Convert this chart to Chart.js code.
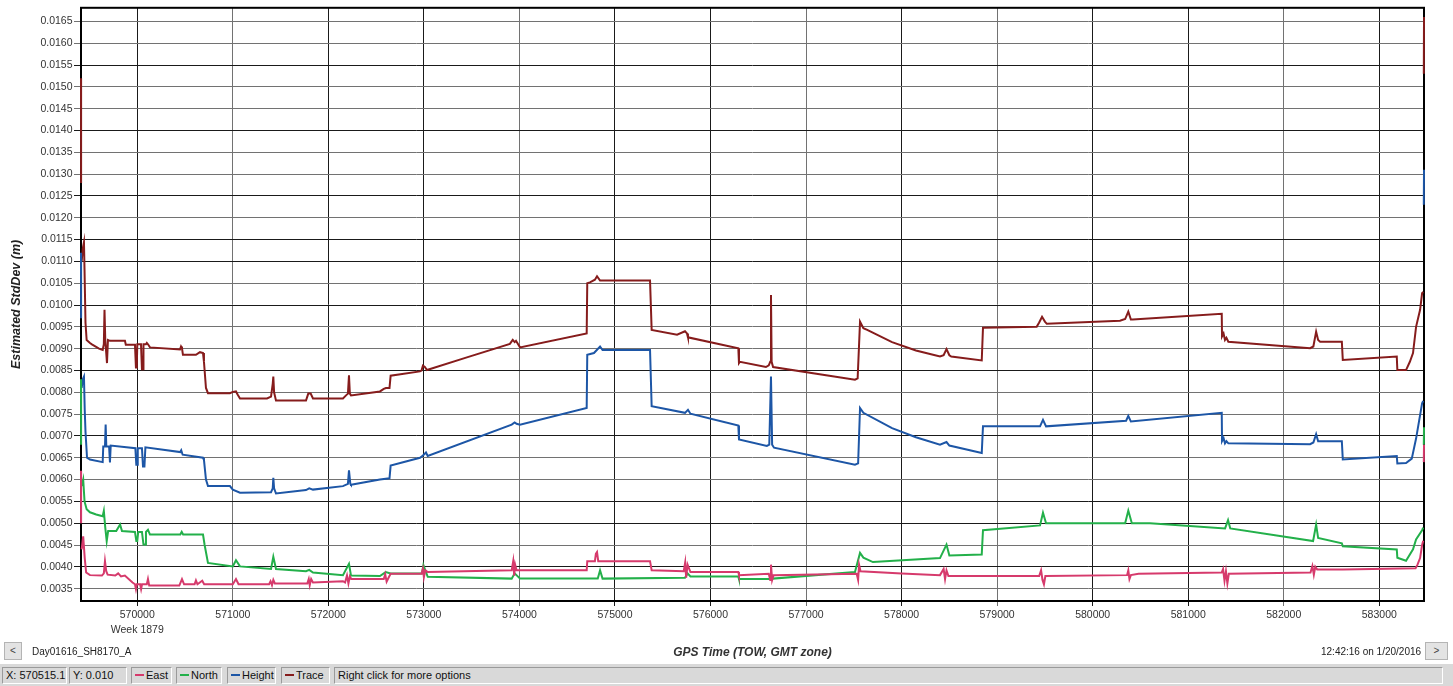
<!DOCTYPE html>
<html>
<head>
<meta charset="utf-8">
<title>Estimated StdDev</title>
<script src="https://cdn.jsdelivr.net/npm/chart.js@4.4.1/dist/chart.umd.min.js"></script>
<style>
  html, body { margin: 0; padding: 0; background: #ffffff; }
  #wrap { position: relative; width: 1453px; height: 686px; overflow: hidden;
          font-family: "Liberation Sans", Arial, sans-serif; color: #1a1a1a; }
  #plot { position: absolute; left: 0; top: 0; }
  .nav { position: absolute; top: 642px; height: 18px; background: #e3e3e3;
         border: 1px solid #b4b4b4; box-sizing: border-box; font-size: 10px;
         color: #444; text-align: center; line-height: 16px; }
  .caption { position: absolute; top: 646px; font-size: 10px; color: #222; white-space: nowrap; }
  #status { position: absolute; left: 0; top: 664px; width: 1453px; height: 22px; background: #d9d9d9; }
  .panel { position: absolute; top: 3px; height: 17px; box-sizing: border-box;
           border-top: 1px solid #9a9a9a; border-left: 1px solid #9a9a9a;
           border-right: 1px solid #ffffff; border-bottom: 1px solid #ffffff;
           font-size: 11px; line-height: 15px; padding-left: 3px; white-space: nowrap; color: #111; }
  .swatch { display: inline-block; width: 9px; height: 2px; vertical-align: middle;
            margin-right: 2px; position: relative; top: -1px; }
</style>
</head>
<body>
<div id="wrap">
  <canvas id="plot" width="1453" height="662"></canvas>
  <div class="nav" style="left:4px;width:18px;">&lt;</div>
  <div class="caption" style="left:32px;">Day01616_SH8170_A</div>
  <div class="caption" style="left:1321px;">12:42:16 on 1/20/2016</div>
  <div class="nav" style="left:1425px;width:23px;">&gt;</div>
  <div id="status">
    <div class="panel" style="left:2px;width:65px;">X: 570515.1</div>
    <div class="panel" style="left:69px;width:58px;">Y: 0.010</div>
    <div class="panel" id="legend-east" style="left:131px;width:41px;"></div>
    <div class="panel" id="legend-north" style="left:176px;width:46px;"></div>
    <div class="panel" id="legend-height" style="left:227px;width:49px;"></div>
    <div class="panel" id="legend-trace" style="left:281px;width:49px;"></div>
    <div class="panel" style="left:334px;width:1109px;">Right click for more options</div>
  </div>
</div>
<script>
// GPS time of week (s) and estimated standard deviation (m) for each component.
// A null value marks a break in the recorded line.
const eastReadings = [
  [569411,0.0062],[569412,0.0050],[569413,null],
  [569418,0.0044],[569434,0.0047],[569450,0.0042],[569465,0.00387],[569505,0.00381],[569630,0.0038],
  [569650,0.00385],[569662,0.00413],[569675,0.0039],[569690,0.00382],[569770,0.0038],[569800,0.00385],[569830,0.00378],[569870,0.0038],
  [569950,0.00364],[569976,0.0036],[569986,0.00349],[569995,0.0036],[570030,0.0036],[570040,0.00349],[570050,0.0036],
  [570100,0.0036],[570112,0.00372],[570125,0.00357],[570440,0.00357],[570468,0.00372],[570490,0.0036],
  [570600,0.0036],[570614,0.00369],[570630,0.0036],[570680,0.00368],[570700,0.0036],
  [571000,0.0036],[571033,0.00372],[571060,0.0036],[571380,0.0036],[571395,0.00367],[571410,0.00358],[571424,0.0037],[571440,0.00362],
  [571780,0.00362],[571795,0.00372],[571805,0.00358],[571820,0.00372],[571839,0.00364],
  [572153,0.00367],[572175,0.00364],[572195,0.0038],[572210,0.00362],[572225,0.00378],[572240,0.00372],
  [572580,0.00372],[572595,0.00383],[572610,0.00366],[572630,0.00375],[572652,0.00384],
  [572975,0.00384],[572990,0.00396],[573000,0.00376],[573015,0.00392],[573040,0.00388],
  [573919,0.00392],[573935,0.00413],[573945,0.0038],[573955,0.00405],[573970,0.00392],
  [574704,0.00392],[574710,0.00413],[574790,0.00413],[574800,0.0043],[574812,0.00434],[574825,0.00413],
  [575367,0.00413],[575384,0.00392],[575720,0.0039],[575735,0.0041],[575745,0.00375],[575760,0.00405],[575790,0.00388],
  [576291,0.00388],[576298,0.00381],[576610,0.00384],[576625,0.0037],[576633,0.00405],[576645,0.0037],[576660,0.00381],
  [577530,0.00384],[577545,0.0037],[577555,0.00405],[577570,0.0039],[578000,0.00385],[578402,0.00381],
  [578440,0.00395],[578455,0.00372],[578470,0.00392],[578490,0.00379],
  [579440,0.00379],[579460,0.00392],[579475,0.0037],[579490,0.0036],[579505,0.00379],
  [580360,0.00381],[580373,0.00392],[580385,0.00372],[580400,0.00381],[580480,0.00384],
  [581350,0.00387],[581365,0.00395],[581380,0.00368],[581395,0.0039],[581410,0.00362],[581425,0.00384],
  [582280,0.00387],[582300,0.00402],[582315,0.00382],[582330,0.0040],[582350,0.00394],
  [582618,0.00394],[583380,0.00397],[583400,0.00405],[583427,0.0042],[583448,0.0045],[583460,0.0046],
  [583463,null],[583466,0.0064],[583468,0.0068]
];

const northReadings = [
  [569411,0.0083],[569412,0.0068],[569413,null],
  [569418,0.00585],[569434,0.0060],[569448,0.0055],[569470,0.00532],[569505,0.00525],[569570,0.0052],[569638,0.00516],
  [569650,0.00528],[569665,0.0049],[569680,0.00459],[569695,0.00482],[569780,0.00482],[569820,0.00497],[569840,0.00482],
  [569976,0.0048],[569990,0.00459],[570000,0.00459],[570010,0.0048],[570049,0.0048],[570065,0.00451],[570081,0.00451],[570091,0.0048],
  [570112,0.00485],[570133,0.00474],[570450,0.00474],[570465,0.0048],[570480,0.00474],[570688,0.00474],
  [570705,0.0045],[570740,0.00409],[571000,0.00401],[571033,0.00415],[571075,0.00401],
  [571400,0.00395],[571424,0.00423],[571452,0.00395],[571766,0.0039],[571800,0.00393],[571839,0.00387],
  [572153,0.00381],[572216,0.00407],[572237,0.0038],[572540,0.00379],[572600,0.00388],[572652,0.00385],
  [572980,0.00385],[572995,0.00404],[573040,0.00377],[573919,0.00373],[573950,0.00385],[574006,0.00373],
  [574820,0.00373],[574844,0.00392],[574870,0.00373],[575733,0.00375],[575760,0.00385],[575790,0.00378],
  [576291,0.00378],[576298,0.00372],[576620,0.00372],[576633,0.0038],[576654,0.00373],
  [577512,0.00388],[577565,0.00432],[577600,0.00421],[577700,0.00411],[578402,0.0042],
  [578470,0.00451],[578500,0.00426],[578839,0.00428],[578852,0.00484],
  [579449,0.00495],[579480,0.00524],[579512,0.0050],[580340,0.0050],[580373,0.00529],[580410,0.0050],[580600,0.0050],
  [581386,0.00488],[581417,0.00507],[581440,0.00488],[582307,0.00459],[582339,0.00497],[582360,0.00466],
  [582608,0.00454],[582618,0.00447],[583183,0.0044],[583189,0.00421],[583280,0.00414],[583353,0.0044],[583385,0.00463],[583448,0.00484],[583460,0.0049],
  [583463,null],[583466,0.0068],[583468,0.0072]
];

const heightReadings = [
  [569411,0.0112],[569412,0.0097],[569413,null],
  [569418,0.0081],[569430,0.0083],[569442,0.00836],[569450,0.0076],[569458,0.0071],[569474,0.0065],
  [569505,0.00646],[569638,0.0064],[569644,0.00676],[569662,0.00676],[569669,0.00726],[569676,0.00676],
  [569705,0.00676],[569714,0.00639],[569722,0.00678],[569980,0.00672],[569990,0.00634],[570000,0.00634],[570005,0.00672],
  [570049,0.00672],[570060,0.0063],[570075,0.0063],[570085,0.00674],[570450,0.00663],[570460,0.00667],[570475,0.00657],
  [570688,0.0065],[570698,0.00645],[570719,0.0060],[570740,0.00585],[570970,0.00585],[571000,0.00577],[571075,0.0057],
  [571400,0.00571],[571418,0.0058],[571424,0.00604],[571432,0.0058],[571452,0.00568],
  [571766,0.00576],[571800,0.0058],[571839,0.00577],[572153,0.00585],[572205,0.0059],[572216,0.00621],[572230,0.0059],[572237,0.00588],
  [572540,0.0060],[572640,0.00603],[572652,0.00632],[572959,0.0065],[572990,0.00655],[573022,0.00662],[573040,0.00654],
  [573919,0.00726],[573950,0.00731],[573970,0.00728],[574006,0.00726],[574704,0.00764],[574710,0.00886],
  [574780,0.0089],[574844,0.00905],[574870,0.00897],[575367,0.00897],[575384,0.00768],
  [575733,0.00753],[575764,0.0076],[575790,0.00751],[576291,0.00724],[576298,0.00692],
  [576590,0.00677],[576615,0.0068],[576633,0.00836],[576645,0.0068],[576665,0.00673],
  [577512,0.00634],[577545,0.00637],[577565,0.00764],[577600,0.00753],[577900,0.00718],[578150,0.00697],[578402,0.0068],
  [578470,0.00686],[578500,0.00678],[578839,0.00661],[578852,0.00722],
  [579449,0.00722],[579480,0.00737],[579512,0.00722],[580350,0.00735],[580373,0.00746],[580400,0.00733],
  [581351,0.00753],[581354,0.00688],[581370,0.00695],[581385,0.00683],[581400,0.00688],[581420,0.00683],
  [582276,0.00681],[582310,0.00685],[582339,0.00704],[582360,0.00688],[582608,0.00688],[582618,0.00646],
  [583183,0.00654],[583189,0.00637],[583280,0.00638],[583340,0.00648],[583385,0.00694],[583448,0.00775],[583460,0.0078],
  [583463,null],[583466,0.0123],[583468,0.0131]
];

const traceReadings = [
  [569411,0.0152],[569412,0.0128],[569413,null],
  [569418,0.0110],[569430,0.0113],[569442,0.01144],[569448,0.0108],[569458,0.0096],[569470,0.0092],
  [569505,0.00913],[569525,0.0091],[569600,0.0090],[569638,0.00897],
  [569650,0.0091],[569657,0.00989],[569665,0.0092],[569683,0.00867],[569693,0.0092],
  [569714,0.00918],[569871,0.00918],[569880,0.00909],[569976,0.00909],
  [569986,0.00857],[569995,0.00857],[570000,0.0091],[570039,0.0091],
  [570049,0.00853],[570060,0.00853],[570065,0.0091],[570091,0.0091],
  [570100,0.00913],[570112,0.0091],[570133,0.00903],[570447,0.00898],
  [570458,0.00905],[570468,0.00901],[570478,0.00886],[570614,0.00886],[570656,0.00892],[570688,0.0089],
  [570698,0.0087],[570719,0.0081],[570740,0.00798],[570970,0.00798],[571000,0.00801],[571033,0.00802],[571050,0.00795],[571075,0.00786],
  [571358,0.00786],[571400,0.0079],[571418,0.0082],[571424,0.00836],[571432,0.0080],[571452,0.00781],
  [571766,0.00781],[571790,0.00797],[571815,0.00797],[571839,0.00786],
  [572153,0.00786],[572185,0.00793],[572205,0.00797],[572216,0.00839],[572225,0.00797],[572237,0.00793],
  [572540,0.00802],[572580,0.00808],[572603,0.0081],[572640,0.0081],[572652,0.00838],
  [572959,0.00848],[572975,0.0085],[572990,0.00861],[573010,0.00858],[573032,0.00851],
  [573450,0.0088],[573900,0.00911],[573930,0.0092],[573950,0.00915],[573964,0.00918],[574006,0.00903],
  [574704,0.00935],[574710,0.0105],[574738,0.01052],[574790,0.01058],[574812,0.01066],[574844,0.01056],
  [575367,0.01056],[575384,0.00943],[575650,0.00932],[575733,0.0094],[575754,0.00935],[575764,0.00926],
  [576291,0.00901],[576298,0.00867],[576308,0.0087],[576580,0.00858],[576610,0.00862],[576625,0.0087],[576633,0.01023],[576640,0.0087],[576655,0.00858],
  [577512,0.00829],[577540,0.00832],[577565,0.00962],[577600,0.00947],[577640,0.00943],[577900,0.00915],[578150,0.00896],[578402,0.00882],
  [578440,0.00885],[578470,0.00899],[578500,0.00885],[578520,0.00882],[578839,0.00873],[578852,0.00948],
  [579414,0.0095],[579440,0.0096],[579470,0.00973],[579500,0.00962],[579520,0.00957],
  [580286,0.00964],[580340,0.00968],[580373,0.00985],[580400,0.00967],[580420,0.00967],
  [581351,0.0098],[581354,0.00928],[581370,0.00935],[581385,0.0092],[581400,0.00925],[581420,0.00916],
  [582276,0.00901],[582310,0.00905],[582339,0.00939],[582360,0.0092],[582381,0.00916],
  [582608,0.00916],[582618,0.00874],[583183,0.00882],[583189,0.00851],[583280,0.00851],
  [583320,0.0087],[583353,0.0089],[583385,0.0095],[583427,0.00989],[583448,0.01027],[583460,0.0103],
  [583463,null],[583466,0.0153],[583468,0.0166]
];

// Axis ticks
const timeTicks = [570000,571000,572000,573000,574000,575000,576000,577000,578000,579000,580000,581000,582000,583000];
const weekLabel = 'Week 1879';
const stdDevTicks = [0.0035,0.0040,0.0045,0.0050,0.0055,0.0060,0.0065,0.0070,0.0075,0.0080,0.0085,0.0090,0.0095,
                     0.0100,0.0105,0.0110,0.0115,0.0120,0.0125,0.0130,0.0135,0.0140,0.0145,0.0150,0.0155,0.0160,0.0165];

const timeRange = { min: 569411, max: 583468 };
const stdDevRange = { min: 0.003217, max: 0.016813 };

// Grid line shading (D = dark, L = light), one letter per tick
const verticalShade = 'DLDDLDDLDLDDLD';
const horizontalShade = 'LDLDDLLDLLDLLDLDDLDLLDLLDLL';

const seriesStyle = [
  { label: 'East',   data: eastReadings,   color: '#d63a6c', legend: 'legend-east' },
  { label: 'North',  data: northReadings,  color: '#23b04a', legend: 'legend-north' },
  { label: 'Height', data: heightReadings, color: '#1d56a6', legend: 'legend-height' },
  { label: 'Trace',  data: traceReadings,  color: '#861c1c', legend: 'legend-trace' }
];

// Status-bar legend entries
seriesStyle.forEach(s => {
  const el = document.getElementById(s.legend);
  el.innerHTML = '<span class="swatch" style="background:' + s.color + '"></span>' + s.label;
});

const FONT = '"Liberation Sans", Arial, sans-serif';
const DARK = '#1a1a1a';
const LIGHT = '#727272';

// Heavy frame around the plotting area
const plotFrame = {
  id: 'plotFrame',
  beforeDatasetsDraw(chart) {
    const { ctx, chartArea: a } = chart;
    ctx.save();
    ctx.strokeStyle = '#000';
    ctx.lineWidth = 2;
    ctx.strokeRect(a.left, a.top, a.right - a.left, a.bottom - a.top);
    ctx.restore();
  }
};

new Chart(document.getElementById('plot'), {
  type: 'line',
  data: {
    datasets: seriesStyle.map(s => ({
      label: s.label,
      data: s.data.map(([x, y]) => ({ x, y })),
      borderColor: s.color,
      backgroundColor: s.color,
      borderWidth: 2,
      pointRadius: 0,
      tension: 0,
      fill: false,
      spanGaps: false,
      clip: { left: 3, right: 3, top: 1, bottom: 1 }
    }))
  },
  options: {
    responsive: false,
    animation: false,
    events: [],
    layout: { padding: { top: 7, right: 29, bottom: 0, left: 0 } },
    plugins: { legend: { display: false }, tooltip: { enabled: false } },
    scales: {
      x: {
        type: 'linear',
        min: timeRange.min,
        max: timeRange.max,
        afterBuildTicks: axis => { axis.ticks = timeTicks.map(v => ({ value: v })); },
        afterFit: axis => { axis.height = 61; },
        border: { display: false },
        grid: {
          color: c => verticalShade[c.index] === 'D' ? DARK : LIGHT,
          lineWidth: 1,
          tickLength: 5
        },
        ticks: {
          autoSkip: false,
          maxRotation: 0,
          padding: 1.5,
          color: '#333',
          font: { family: FONT, size: 10.5, lineHeight: 1.43 },
          callback: (v, i) => i === 0 ? [String(v), weekLabel] : String(v)
        },
        title: {
          display: true,
          text: 'GPS Time (TOW, GMT zone)',
          color: '#333',
          font: { family: FONT, size: 12, weight: 'bold', style: 'italic' },
          padding: { top: 0, bottom: 1.8 }
        }
      },
      y: {
        type: 'linear',
        min: stdDevRange.min,
        max: stdDevRange.max,
        afterBuildTicks: axis => { axis.ticks = stdDevTicks.map(v => ({ value: v })); },
        afterFit: axis => { axis.width = 81; },
        border: { display: false },
        grid: {
          color: c => horizontalShade[c.index] === 'D' ? DARK : LIGHT,
          lineWidth: 1,
          tickLength: 7
        },
        ticks: {
          autoSkip: false,
          padding: 1.5,
          color: '#333',
          font: { family: FONT, size: 10.5 },
          callback: v => Number(v).toFixed(4)
        },
        title: {
          display: true,
          text: 'Estimated StdDev (m)',
          color: '#222',
          font: { family: FONT, size: 12.5, weight: 'bold', style: 'italic' },
          padding: { top: 9.5, bottom: 0 }
        }
      }
    }
  },
  plugins: [plotFrame]
});
</script>
</body>
</html>
